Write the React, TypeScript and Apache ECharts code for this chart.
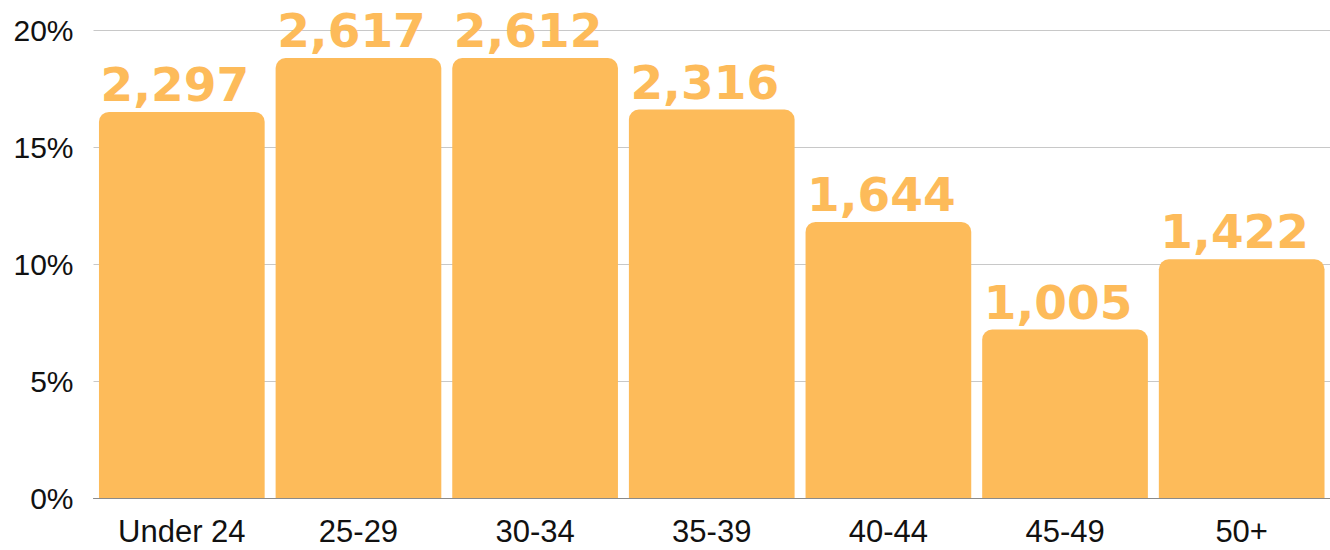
import React, { useEffect, useRef } from "react";
import * as echarts from "echarts";

const categories = ["Under 24", "25-29", "30-34", "35-39", "40-44", "45-49", "50+"];
const sharePercent = [16.5, 18.8, 18.8, 16.6, 11.8, 7.2, 10.2];
const countLabels = ["2,297", "2,617", "2,612", "2,316", "1,644", "1,005", "1,422"];
const yTicks = { min: 0, max: 20, interval: 5 };

export default function App() {
  const ref = useRef<HTMLDivElement>(null);
  useEffect(() => {
    if (!ref.current) return;
    const chart = echarts.init(ref.current, null, { renderer: "svg" });
    chart.setOption({
      animation: false,
      backgroundColor: "#ffffff",
      grid: { left: 93.5, top: 30, width: 1239, bottom: 52 },
      xAxis: {
        type: "category",
        data: categories,
        axisTick: { show: false },
        axisLine: { show: true, lineStyle: { color: "#8a8a8a", width: 1 } },
        axisLabel: {
          color: "#111",
          fontFamily: "Liberation Sans",
          fontSize: 31,
          margin: 18,
        },
        z: 0,
      },
      yAxis: {
        type: "value",
        min: yTicks.min,
        max: yTicks.max,
        interval: yTicks.interval,
        axisLine: { show: false },
        axisTick: { show: false },
        axisLabel: {
          formatter: "{value}%",
          color: "#111",
          fontFamily: "Liberation Sans",
          fontSize: 30,
          margin: 20,
        },
        splitLine: { lineStyle: { color: "#c8c8c8", width: 1 } },
      },
      series: [
        {
          type: "bar",
          data: sharePercent,
          barCategoryGap: "6.2%",
          z: 3,
          itemStyle: { color: "#fdbb5a", borderRadius: [10, 10, 0, 0] },
          label: {
            show: true,
            position: "top",
            distance: 4,
            offset: [-7, 0],
            formatter: (p: any) => countLabels[p.dataIndex],
            color: "#fdbb5a",
            fontFamily: "DejaVu Sans",
            fontWeight: "bold",
            fontSize: 47,
          },
        },
      ],
    });
    return () => chart.dispose();
  }, []);
  return (
    <div
      ref={ref}
      style={{ position: "fixed", left: 0, top: 0, width: 1330, height: 550 }}
    />
  );
}
